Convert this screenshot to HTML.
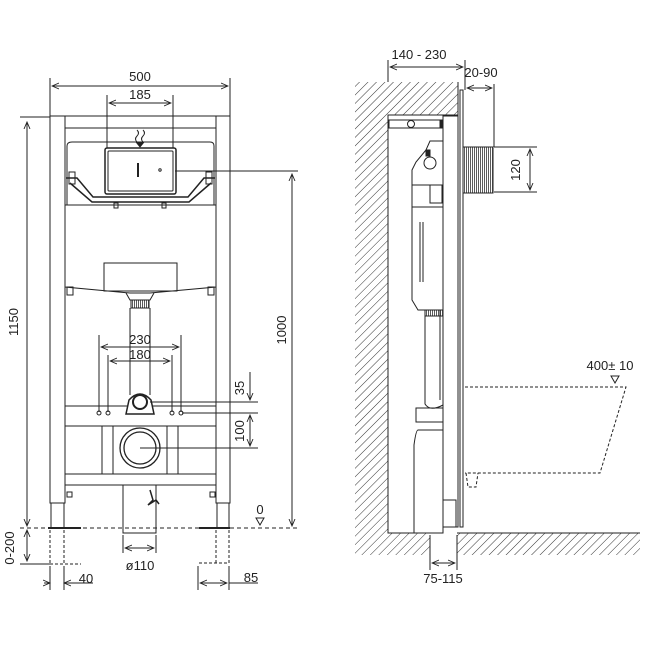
<!DOCTYPE html>
<html><head><meta charset="utf-8"><style>
html,body{margin:0;padding:0;background:#fff}
svg{display:block}
text{font-family:"Liberation Sans",sans-serif;font-size:13px;fill:#222}
</style></head><body>
<svg width="645" height="645" viewBox="0 0 645 645" xmlns="http://www.w3.org/2000/svg">
<defs>
<pattern id="h" width="6" height="6" patternUnits="userSpaceOnUse" patternTransform="rotate(45)">
<line x1="0" y1="0" x2="0" y2="6" stroke="#333" stroke-width="1"/>
</pattern>
<pattern id="v" width="2" height="4" patternUnits="userSpaceOnUse">
<line x1="0.5" y1="0" x2="0.5" y2="4" stroke="#333" stroke-width="0.8"/>
</pattern>
<marker id="a" markerWidth="8" markerHeight="8" refX="7" refY="4" orient="auto-start-reverse" markerUnits="userSpaceOnUse">
<path d="M0,1 L7,4 L0,7" fill="none" stroke="#222" stroke-width="0.9"/>
</marker>
</defs>
<g stroke="#222" stroke-width="1" fill="none">
<!-- FRONT VIEW -->
<line x1="50" y1="78" x2="50" y2="116"/><line x1="230" y1="78" x2="230" y2="145"/>
<line x1="52" y1="86" x2="228" y2="86" marker-start="url(#a)" marker-end="url(#a)"/>
<line x1="107" y1="95" x2="107" y2="148"/><line x1="173" y1="95" x2="173" y2="148"/>
<line x1="109" y1="103" x2="171" y2="103" marker-start="url(#a)" marker-end="url(#a)"/>
<rect x="50" y="116" width="15" height="387"/>
<rect x="216" y="116" width="14" height="387"/>
<line x1="65" y1="116" x2="216" y2="116"/><line x1="65" y1="128" x2="216" y2="128"/>
<rect x="51" y="503" width="13" height="25"/><rect x="217" y="503" width="12" height="25"/>
<line x1="48" y1="528" x2="81" y2="528" stroke-width="2"/><line x1="199" y1="528" x2="230" y2="528" stroke-width="2"/>
<path d="M137,130 q3,3 0,6 q-3,3 0,6 M143,130 q3,3 0,6 q-3,3 0,6" />
<path d="M136,142 L140,147 L144,142 Z" fill="#222"/>
<path d="M67,205 L67,146 Q67,142 72,142 L210,142 Q214,142 214,146 L214,205 Z"/>
<rect x="105" y="148" width="71" height="46" rx="2" stroke-width="1.5"/>
<rect x="108" y="151" width="65" height="40" rx="1"/>
<line x1="138" y1="163" x2="138" y2="177" stroke-width="2"/>
<circle cx="160" cy="170" r="1.2"/>
<path d="M66,178 L77,178 L93,197 L188,197 L204,178 L215,178 M70,183 L92,202 L189,202 L211,183" stroke-width="1.5"/>
<rect x="69" y="172" width="6" height="12"/><rect x="206" y="172" width="6" height="12"/>
<rect x="114" y="203" width="4" height="5"/><rect x="162" y="203" width="4" height="5"/>
<path d="M65,205 L216,205 L216,287 L150,293 L130,293 L65,287 Z"/>
<rect x="104" y="263" width="73" height="28"/>
<rect x="67" y="287" width="6" height="8"/><rect x="208" y="287" width="6" height="8"/>
<path d="M126,293 L130,300 L150,300 L154,293"/>
<rect x="131" y="300" width="18" height="8" fill="url(#v)"/>
<line x1="130" y1="308" x2="130" y2="395"/><line x1="150" y1="308" x2="150" y2="395"/>
<line x1="20" y1="117" x2="50" y2="117"/>
<line x1="27" y1="122" x2="27" y2="526" marker-start="url(#a)" marker-end="url(#a)"/>
<line x1="175" y1="171" x2="298" y2="171"/>
<line x1="292" y1="174" x2="292" y2="526" marker-start="url(#a)" marker-end="url(#a)"/>
<line x1="99" y1="335" x2="99" y2="412"/><line x1="181" y1="335" x2="181" y2="412"/>
<line x1="101" y1="347" x2="179" y2="347" marker-start="url(#a)" marker-end="url(#a)"/>
<line x1="108" y1="355" x2="108" y2="412"/><line x1="172" y1="355" x2="172" y2="412"/>
<line x1="110" y1="361" x2="170" y2="361" marker-start="url(#a)" marker-end="url(#a)"/>
<rect x="65" y="406" width="151" height="20"/>
<circle cx="99" cy="413" r="2"/><circle cx="108" cy="413" r="2"/><circle cx="172" cy="413" r="2"/><circle cx="181" cy="413" r="2"/>
<path d="M126,414 L129,400 Q140,388 151,400 L154,414 Z" fill="#fff" stroke-width="1.5"/>
<circle cx="140" cy="402" r="7" stroke-width="2"/>
<line x1="102" y1="426" x2="102" y2="474"/><line x1="113" y1="426" x2="113" y2="474"/>
<line x1="167" y1="426" x2="167" y2="474"/><line x1="178" y1="426" x2="178" y2="474"/>
<circle cx="140" cy="448" r="20" stroke-width="1.3"/>
<circle cx="140" cy="448" r="16" stroke-width="1.3"/>
<rect x="65" y="474" width="151" height="11"/>
<rect x="67" y="492" width="5" height="5"/><rect x="210" y="492" width="5" height="5"/>
<path d="M123,485 L123,533 L156,533 L156,485"/>
<path d="M150,490 L153,500 L148,505 L156,500 L159,504" stroke-width="1.5"/>
<line x1="150" y1="402" x2="258" y2="402"/><line x1="182" y1="413" x2="258" y2="413"/><line x1="140" y1="448" x2="258" y2="448"/>
<line x1="250" y1="372" x2="250" y2="400" marker-end="url(#a)"/>
<line x1="250" y1="415" x2="250" y2="446" marker-start="url(#a)" marker-end="url(#a)"/>
<line x1="20" y1="528" x2="298" y2="528" stroke-dasharray="4,3"/>
<path d="M256,518 L264,518 L260,525 Z"/>
<line x1="123" y1="535" x2="123" y2="553"/><line x1="156" y1="535" x2="156" y2="553"/>
<line x1="125" y1="548" x2="154" y2="548" marker-start="url(#a)" marker-end="url(#a)"/>
<line x1="27" y1="530" x2="27" y2="561" marker-start="url(#a)" marker-end="url(#a)"/>
<line x1="20" y1="564" x2="50" y2="564"/>
<g stroke-dasharray="3,2"><line x1="50" y1="530" x2="50" y2="564"/><line x1="64" y1="530" x2="64" y2="564"/><line x1="50" y1="564" x2="81" y2="564"/>
<line x1="216" y1="530" x2="216" y2="563"/><line x1="229" y1="530" x2="229" y2="563"/><line x1="199" y1="563" x2="229" y2="563"/></g>
<line x1="50" y1="566" x2="50" y2="590"/><line x1="64" y1="566" x2="64" y2="590"/>
<line x1="44" y1="583" x2="50" y2="583" marker-end="url(#a)"/><line x1="93" y1="583" x2="64" y2="583" marker-end="url(#a)"/>
<line x1="198" y1="566" x2="198" y2="590"/><line x1="229" y1="566" x2="229" y2="590"/>
<line x1="200" y1="583" x2="227" y2="583" marker-start="url(#a)" marker-end="url(#a)"/><line x1="229" y1="583" x2="258" y2="583"/>

<!-- SIDE VIEW -->
<path d="M355,82 L458,82 L458,115 L388,115 L388,533 L430,533 L430,555 L355,555 Z" fill="url(#h)" stroke="none"/>
<rect x="457" y="533" width="183" height="22" fill="url(#h)" stroke="none"/>
<path d="M458,82 L458,115 L388,115 L388,533 L430,533 M457,533 L640,533"/>
<line x1="388" y1="60" x2="388" y2="82"/><line x1="465" y1="60" x2="465" y2="90"/>
<line x1="390" y1="67" x2="463" y2="67" marker-start="url(#a)" marker-end="url(#a)"/>
<line x1="494" y1="84" x2="494" y2="147"/>
<line x1="467" y1="88" x2="492" y2="88" marker-start="url(#a)" marker-end="url(#a)"/>
<rect x="443" y="116" width="15" height="411"/>
<rect x="460" y="90" width="3" height="437"/>
<rect x="463" y="147" width="30" height="46" fill="url(#v)" stroke-width="1"/>
<line x1="494" y1="147" x2="537" y2="147"/><line x1="494" y1="192" x2="537" y2="192"/>
<line x1="530" y1="149" x2="530" y2="190" marker-start="url(#a)" marker-end="url(#a)"/>
<rect x="389" y="120" width="54" height="8"/><circle cx="411" cy="124" r="3.5"/><rect x="440" y="120" width="3" height="8" fill="#222"/>
<path d="M443,141 L430,141 L426,150 L416,162 L412,170 L412,300 L418,310 L443,310"/>
<circle cx="430" cy="163" r="6"/>
<rect x="426" y="150" width="4" height="6" fill="#222"/>
<line x1="412" y1="185" x2="443" y2="185"/><line x1="412" y1="207" x2="443" y2="207"/>
<rect x="430" y="185" width="12" height="18"/>
<line x1="420" y1="222" x2="420" y2="282"/><line x1="423" y1="222" x2="423" y2="282"/>
<rect x="425" y="310" width="18" height="6" fill="url(#v)"/>
<path d="M425,310 L425,404 Q430,412 443,405 M440,310 L440,400"/>
<rect x="416" y="408" width="27" height="14"/>
<path d="M418,430 Q416,430 414,445 L414,533 L443,533 L443,430 Z"/>
<rect x="443" y="500" width="13" height="27"/>
<path d="M465,387 L626,387 L600,473 L465,473 M466,473 L468,487 L476,487 L478,473" stroke-dasharray="3,2"/>
<path d="M611,376 L619,376 L615,383 Z"/>
<line x1="430" y1="535" x2="430" y2="570"/><line x1="457" y1="535" x2="457" y2="570"/>
<line x1="432" y1="563" x2="455" y2="563" marker-start="url(#a)" marker-end="url(#a)"/>
</g>
<g>
<text x="140" y="81" text-anchor="middle">500</text>
<text x="140" y="99" text-anchor="middle">185</text>
<text x="18" y="322" text-anchor="middle" transform="rotate(-90 18 322)">1150</text>
<text x="286" y="330" text-anchor="middle" transform="rotate(-90 286 330)">1000</text>
<text x="140" y="344" text-anchor="middle">230</text>
<text x="140" y="359" text-anchor="middle">180</text>
<text x="244" y="388" text-anchor="middle" transform="rotate(-90 244 388)">35</text>
<text x="244" y="431" text-anchor="middle" transform="rotate(-90 244 431)">100</text>
<text x="260" y="514" text-anchor="middle">0</text>
<text x="140" y="570" text-anchor="middle">ø110</text>
<text x="14" y="548" text-anchor="middle" transform="rotate(-90 14 548)">0-200</text>
<text x="86" y="583" text-anchor="middle">40</text>
<text x="251" y="582" text-anchor="middle">85</text>
<text x="419" y="59" text-anchor="middle">140 - 230</text>
<text x="481" y="77" text-anchor="middle">20-90</text>
<text x="520" y="170" text-anchor="middle" transform="rotate(-90 520 170)">120</text>
<text x="610" y="370" text-anchor="middle">400± 10</text>
<text x="443" y="583" text-anchor="middle">75-115</text>
</g>
</svg>
</body></html>
